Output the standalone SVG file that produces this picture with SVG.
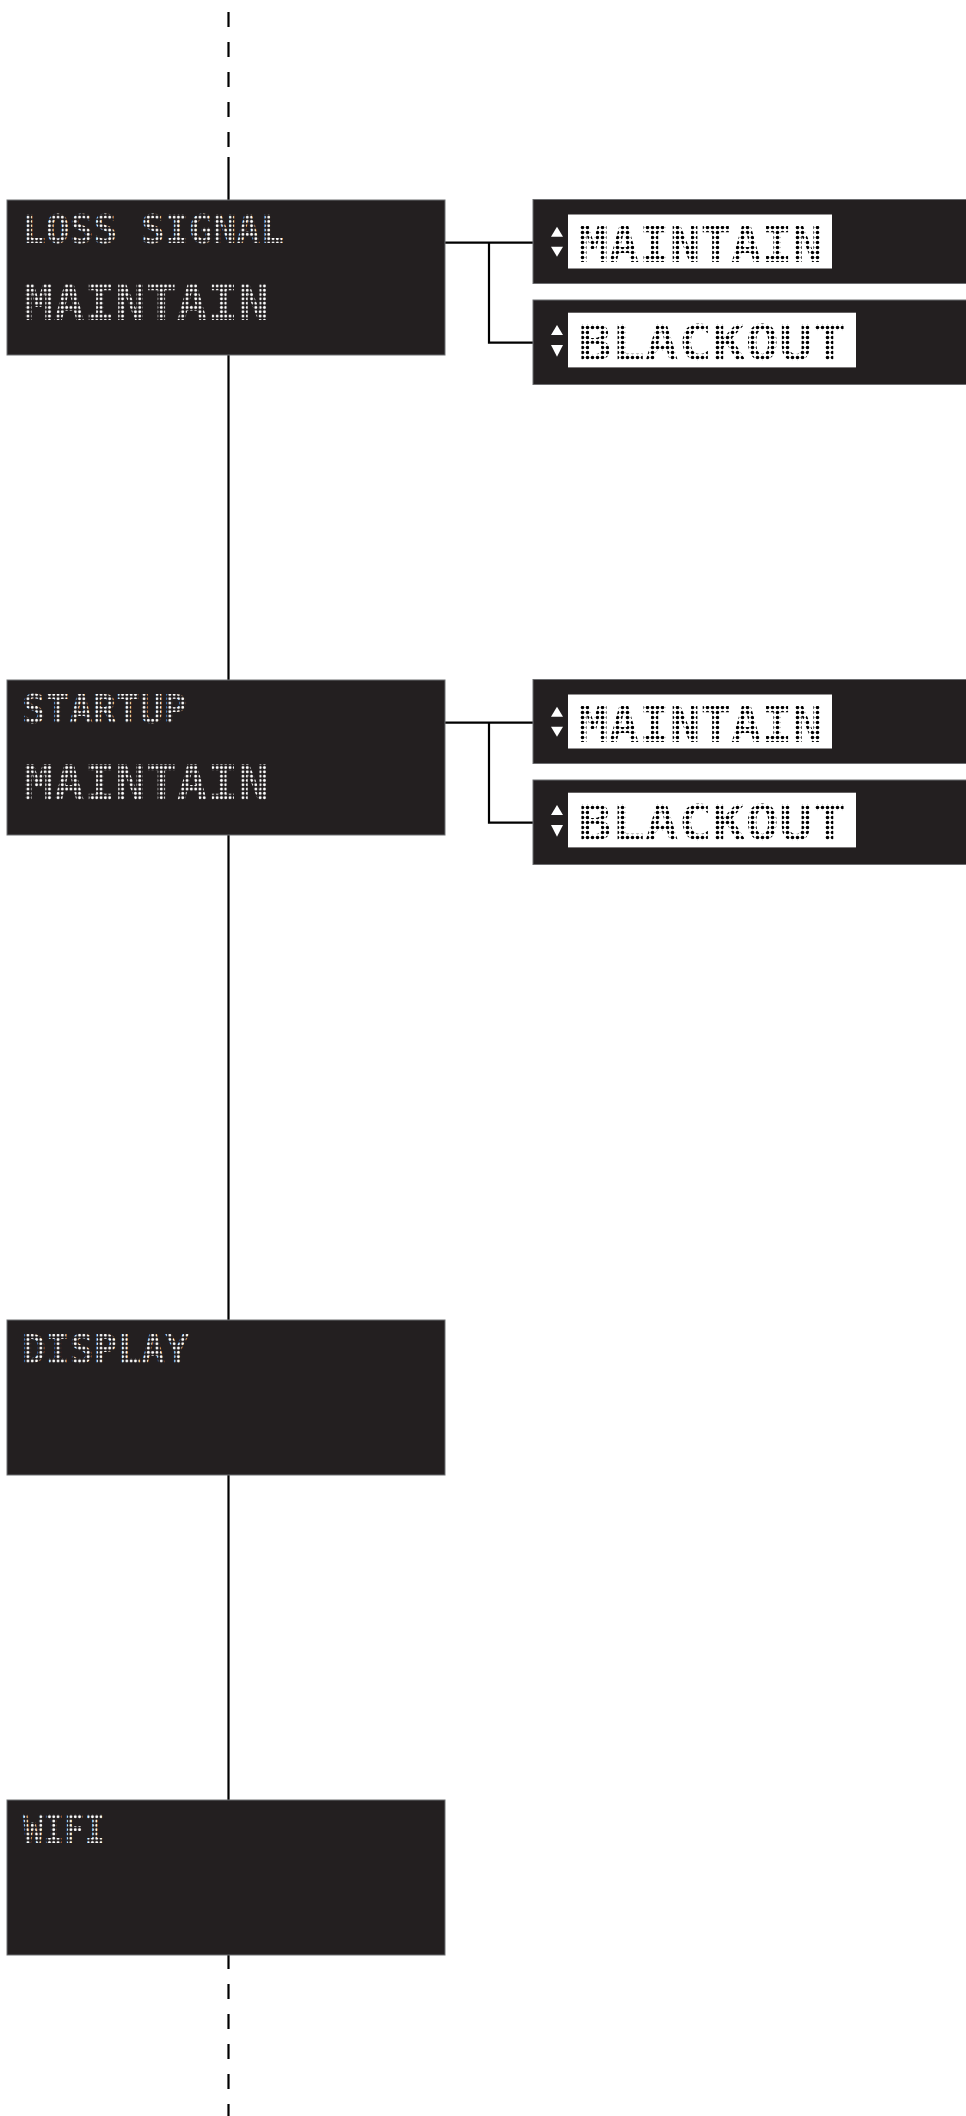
<svg xmlns="http://www.w3.org/2000/svg" width="966" height="2116" viewBox="0 0 966 2116">
<style>
.box{fill:#231f20;stroke:#6d6e71;stroke-width:1}
.win{fill:#ffffff}
.ln{stroke:#000;stroke-width:2.2;fill:none}
.dash{stroke:#000;stroke-width:2.2;fill:none;stroke-dasharray:15 15}
.t{font-family:"DejaVu Sans Mono","Liberation Mono",monospace;font-weight:bold}
.s{font-size:38.5px}
.l{font-size:50.5px}
.tw{fill:url(#dw)}
.tb{fill:url(#db)}
.tri{fill:#fff}
</style>
<defs>
<pattern id="dw" width="4.3" height="4.3" patternUnits="userSpaceOnUse"><circle cx="2.15" cy="2.15" r="1.4" fill="#fff"/></pattern>
<pattern id="db" width="5" height="5" patternUnits="userSpaceOnUse"><circle cx="2.5" cy="2.5" r="1.8" fill="#000"/></pattern>
</defs>
<rect width="966" height="2116" fill="#fff"/>
<g id="connectors">
<line class="dash" x1="228.5" y1="12" x2="228.5" y2="157"/>
<line class="ln" x1="228.5" y1="157" x2="228.5" y2="200"/>
<line class="ln" x1="228.5" y1="355" x2="228.5" y2="680"/>
<line class="ln" x1="228.5" y1="835" x2="228.5" y2="1320"/>
<line class="ln" x1="228.5" y1="1475" x2="228.5" y2="1800"/>
<line class="ln" x1="228.5" y1="1955" x2="228.5" y2="1969"/>
<line class="dash" x1="228.5" y1="1984" x2="228.5" y2="2116"/>
<polyline class="ln" points="445,242.7 533,242.7"/>
<polyline class="ln" points="489,242.7 489,342.7 533,342.7"/>
<polyline class="ln" points="445,722.7 533,722.7"/>
<polyline class="ln" points="489,722.7 489,822.7 533,822.7"/>
</g>
<g id="node-loss-signal">
<rect class="box" x="7" y="200" width="438" height="155"/>
<text class="t s tw" x="22" y="243" textLength="262" lengthAdjust="spacingAndGlyphs">LOSS SIGNAL</text>
<text class="t l tw" x="23" y="320" textLength="246" lengthAdjust="spacingAndGlyphs">MAINTAIN</text>
</g>
<g id="opt-loss-maintain">
<rect class="box" x="533" y="199.5" width="440" height="84"/>
<rect class="win" x="568" y="214.5" width="264" height="54"/>
<polygon class="tri" points="551,236.7 563,236.7 557,226.7"/>
<polygon class="tri" points="551,246.7 563,246.7 557,256.7"/>
<text class="t l tb" x="578" y="262.3" textLength="245" lengthAdjust="spacingAndGlyphs">MAINTAIN</text>
</g>
<g id="opt-loss-blackout">
<rect class="box" x="533" y="300" width="440" height="84.5"/>
<rect class="win" x="568" y="312.7" width="288" height="54.7"/>
<polygon class="tri" points="551,335 563,335 557,325"/>
<polygon class="tri" points="551,345 563,345 557,356.7"/>
<text class="t l tb" x="578" y="359.5" textLength="268" lengthAdjust="spacingAndGlyphs">BLACKOUT</text>
</g>
<g id="node-startup">
<rect class="box" x="7" y="680" width="438" height="155"/>
<text class="t s tw" x="22" y="723" textLength="165" lengthAdjust="spacingAndGlyphs">STARTUP</text>
<text class="t l tw" x="23" y="800" textLength="246" lengthAdjust="spacingAndGlyphs">MAINTAIN</text>
</g>
<g id="opt-startup-maintain">
<rect class="box" x="533" y="679.5" width="440" height="84"/>
<rect class="win" x="568" y="694.5" width="264" height="54"/>
<polygon class="tri" points="551,716.7 563,716.7 557,706.7"/>
<polygon class="tri" points="551,726.7 563,726.7 557,736.7"/>
<text class="t l tb" x="578" y="742.3" textLength="245" lengthAdjust="spacingAndGlyphs">MAINTAIN</text>
</g>
<g id="opt-startup-blackout">
<rect class="box" x="533" y="780" width="440" height="84.5"/>
<rect class="win" x="568" y="792.7" width="288" height="54.7"/>
<polygon class="tri" points="551,815 563,815 557,805"/>
<polygon class="tri" points="551,825 563,825 557,836.7"/>
<text class="t l tb" x="578" y="839.5" textLength="268" lengthAdjust="spacingAndGlyphs">BLACKOUT</text>
</g>
<g id="node-display">
<rect class="box" x="7" y="1320" width="438" height="155"/>
<text class="t s tw" x="22" y="1363" textLength="167" lengthAdjust="spacingAndGlyphs">DISPLAY</text>
</g>
<g id="node-wifi">
<rect class="box" x="7" y="1800" width="438" height="155"/>
<text class="t s tw" x="23" y="1843" textLength="82" lengthAdjust="spacingAndGlyphs">WIFI</text>
</g>
</svg>
